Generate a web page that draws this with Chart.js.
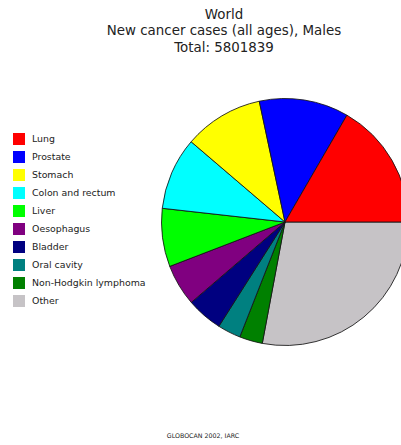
<!DOCTYPE html>
<html>
<head>
<meta charset="utf-8">
<script src="https://cdn.jsdelivr.net/npm/chart.js@4"></script>
<style>
  html, body { margin:0; padding:0; background:#fff; }
  body { width:401px; height:445px; position:relative; overflow:hidden; font-family:"DejaVu Sans", Verdana, sans-serif; color:#222; }
  #title { position:absolute; left:0; width:448px; top:6.5px; text-align:center; font-size:13.4px; line-height:16.6px; white-space:nowrap; }
  #legend { position:absolute; left:13px; top:133px; }
  .row { position:absolute; left:0; height:12px; white-space:nowrap; }
  .sw { position:absolute; left:0; top:0; width:12px; height:12px; }
  .lb { position:absolute; left:19px; top:-1px; font-size:9.4px; line-height:14px; color:#222; }
  #pie { position:absolute; left:161px; top:97.5px; width:248px; height:248px; }
  #footer { position:absolute; left:0; width:406px; top:431px; text-align:center; font-size:6.3px; line-height:9px; color:#222; }
</style>
</head>
<body>
<div id="title"></div>
<div id="legend"></div>
<div id="pie"><canvas id="c"></canvas></div>
<div id="footer">GLOBOCAN 2002, IARC</div>
<script>
const titleLines = ["World", "New cancer cases (all ages), Males", "Total: 5801839"];
const categories = ["Lung", "Prostate", "Stomach", "Colon and rectum", "Liver", "Oesophagus", "Bladder", "Oral cavity", "Non-Hodgkin lymphoma", "Other"];
const cases = [965241, 679023, 603419, 550465, 442119, 315394, 273858, 175916, 175123, 1621281];
const colors = ["#ff0000", "#0000ff", "#ffff00", "#00ffff", "#00ff00", "#800080", "#000080", "#008080", "#008000", "#c6c3c6"];

const t = document.getElementById('title');
titleLines.forEach(s => { const d = document.createElement('div'); d.textContent = s; t.appendChild(d); });

const lg = document.getElementById('legend');
categories.forEach((c, i) => {
  const r = document.createElement('div');
  r.className = 'row';
  r.style.top = (i * 18) + 'px';
  const sw = document.createElement('div'); sw.className = 'sw'; sw.style.background = colors[i];
  const lb = document.createElement('div'); lb.className = 'lb'; lb.textContent = c;
  r.appendChild(sw); r.appendChild(lb); lg.appendChild(r);
});

// Reference is drawn counterclockwise from 3 o'clock; Chart.js draws clockwise,
// so feed the slices in reverse order starting at 3 o'clock.
const rev = a => a.slice().reverse();
new Chart(document.getElementById('c'), {
  type: 'pie',
  data: {
    labels: rev(categories),
    datasets: [{
      data: rev(cases),
      backgroundColor: rev(colors),
      borderColor: 'rgba(20,20,20,0.85)',
      borderWidth: 1
    }]
  },
  options: {
    responsive: true,
    maintainAspectRatio: false,
    animation: false,
    rotation: 90,
    layout: { padding: 0 },
    plugins: { legend: { display: false }, title: { display: false }, tooltip: { enabled: false } }
  }
});
</script>
</body>
</html>
